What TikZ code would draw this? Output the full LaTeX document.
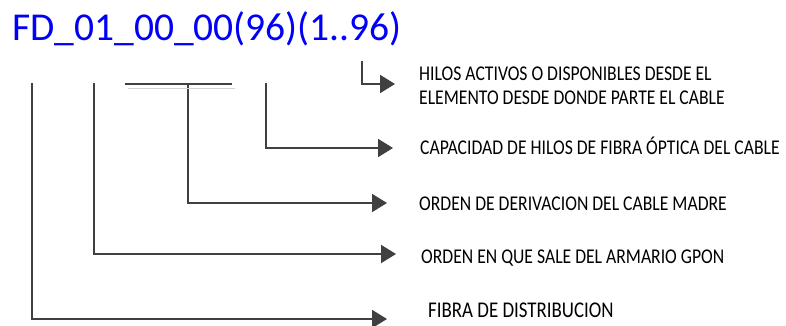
\documentclass[tikz,border=0pt]{standalone}
\usepackage{fontspec}
\setmainfont{Carlito}
\newfontfamily\descfont[FakeStretch=0.84]{Carlito}
\usetikzlibrary{arrows.meta}
\definecolor{codeblue}{RGB}{0,0,250}
\definecolor{linegray}{RGB}{64,64,64}
\tikzset{
  desc/.style={anchor=base west, inner sep=0pt, align=left, font=\descfont\fontsize{21}{24}\selectfont},
  pointer/.style={->, draw=linegray, line width=2pt},
}

\begin{document}
\begin{tikzpicture}[x=1pt, y=-1pt, >={Triangle[length=15pt, width=18pt]}]
        \useasboundingbox (0,0) rectangle (786,325);

        \node[anchor=base west, inner sep=0pt, text=codeblue, font=\fontsize{39.5}{47}\selectfont] (code) at (12,40) {FD\_01\_00\_00(96)(1..96)};

        \node[desc] (hilos) at (419,104) {HILOS ACTIVOS O DISPONIBLES DESDE EL\\ELEMENTO DESDE DONDE PARTE EL CABLE};
        \node[desc] (capac) at (420,154) {CAPACIDAD DE HILOS DE FIBRA ÓPTICA DEL CABLE};
        \node[desc] (deriv) at (419,210) {ORDEN DE DERIVACION DEL CABLE MADRE};
        \node[desc] (gpon) at (421,263) {ORDEN EN QUE SALE DEL ARMARIO GPON};
        \node[desc, font=\descfont\fontsize{22.5}{26}\selectfont] (fibra) at (428,317) {FIBRA DE DISTRIBUCION};

        % tops of the ticks and arrow tips
        \coordinate (tickF) at (32,83);
        \coordinate (tickO) at (94,83);
        \coordinate (tickD) at (188,83);
        \coordinate (tickC) at (266,83);
        \coordinate (tickH) at (362,61);
        \coordinate (tipF) at (387,319);
        \coordinate (tipO) at (396,254);
        \coordinate (tipD) at (387,203);
        \coordinate (tipC) at (393,148);
        \coordinate (tipH) at (395,84);

        \draw[pointer] (tickF) |- (tipF);
        \draw[pointer] (tickO) |- (tipO);
        \draw[pointer] (tickD) |- (tipD);
        \draw[pointer] (tickC) |- (tipC);
        \draw[pointer] (tickH) |- (tipH);

        \draw[linegray, line width=1.3pt] (125,84) -- (232,84);
        \draw[gray!35, line width=1pt] (128,88) -- (235,88);
    \end{tikzpicture}
\end{document}
